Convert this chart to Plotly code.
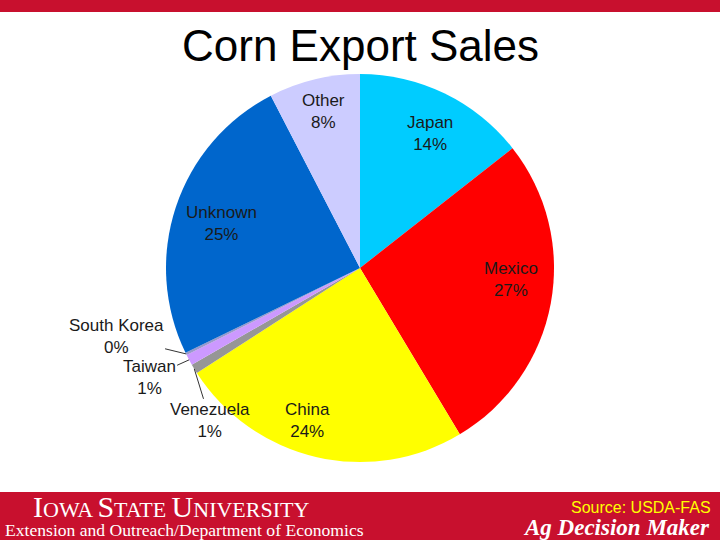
import math
import plotly.graph_objects as go

# ---- data ----
countries = ["Japan", "Mexico", "China", "Venezuela", "Taiwan", "South Korea", "Unknown", "Other"]
shares = [14.4, 27.0, 24.5, 0.8, 0.9, 0.2, 24.6, 7.6]
pct_labels = ["14%", "27%", "24%", "1%", "1%", "0%", "25%", "8%"]
colors = ["#00CCFF", "#FF0000", "#FFFF00", "#969696", "#CC99FF", "#9999CC", "#0066CC", "#CCCCFF"]

title_text = "Corn Export Sales"
source_text = "Source: USDA-FAS"

# ---- layout geometry (pixels) ----
W, H = 720, 540
CX, CY, R = 360, 268, 194
RED = "#C8102E"

def px(x):
    return x / W

def py(y):
    return 1 - y / H

fig = go.Figure()
fig.add_trace(go.Pie(
    labels=countries,
    values=shares,
    sort=False,
    direction="clockwise",
    rotation=0,
    marker=dict(colors=colors, line=dict(width=0)),
    textinfo="none",
    hoverinfo="label+percent",
    showlegend=False,
    domain=dict(x=[px(CX - R), px(CX + R)], y=[py(CY + R), py(CY - R)]),
))

# label placement styles: inside labels (radius fraction, angle nudge deg)
inside_style = {
    "Japan": (0.78, 1.5),
    "Mexico": (0.78, -6.0),
    "China": (0.83, 6.0),
    "Unknown": (0.75, -0.5),
    "Other": (0.83, 0.5),
}
# outside labels: pixel offsets of text from the slice edge point
outside_style = {
    "Venezuela": (16, 52),
    "Taiwan": (-40, 18),
    "South Korea": (-70, -17),
}

total = sum(shares)
cum = 0.0
annotations = []
label_font = dict(family="Liberation Sans, Arial", size=17, color="#1a1a1a")
for name, v, pl in zip(countries, shares, pct_labels):
    mid = (cum + v / 2) / total * 360.0
    cum += v
    txt = f"{name}<br>{pl}"
    if name in inside_style:
        rf, nudge = inside_style[name]
        a = math.radians(mid + nudge)
        x = CX + rf * R * math.sin(a)
        y = CY - rf * R * math.cos(a)
        annotations.append(dict(x=px(x), y=py(y), xref="paper", yref="paper",
                                text=txt, showarrow=False, font=label_font,
                                align="center", xanchor="center", yanchor="middle"))
    else:
        a = math.radians(mid)
        x = CX + R * math.sin(a)
        y = CY - R * math.cos(a)
        ax, ay = outside_style[name]
        annotations.append(dict(x=px(x), y=py(y), xref="paper", yref="paper",
                                text=txt, showarrow=True, arrowhead=0, arrowwidth=1,
                                arrowcolor="#333333", ax=ax, ay=ay, standoff=0,
                                font=label_font, align="center"))

# title
annotations.append(dict(x=0.5, y=py(46), xref="paper", yref="paper", text=title_text,
                        showarrow=False, xanchor="center", yanchor="middle",
                        font=dict(family="Liberation Sans, Arial", size=44, color="#000000")))

# footer texts
annotations.append(dict(x=px(31), y=py(506), xref="paper", yref="paper",
                        text=("<span style='font-size:30px'>I</span>OWA "
                              "<span style='font-size:30px'>S</span>TATE "
                              "<span style='font-size:30px'>U</span>NIVERSITY"),
                        showarrow=False, xanchor="left", yanchor="middle",
                        font=dict(family="Liberation Serif, Times New Roman", size=22, color="#FFFFFF")))
annotations.append(dict(x=px(3), y=py(530), xref="paper", yref="paper",
                        text="Extension and Outreach/Department of Economics",
                        showarrow=False, xanchor="left", yanchor="middle",
                        font=dict(family="Liberation Serif, Times New Roman", size=17.6, color="#FFFFFF")))
annotations.append(dict(x=px(713), y=py(507), xref="paper", yref="paper",
                        text=source_text, showarrow=False, xanchor="right", yanchor="middle",
                        font=dict(family="Liberation Sans, Arial", size=16, color="#FFFF00")))
annotations.append(dict(x=px(712), y=py(527), xref="paper", yref="paper",
                        text="<b><i>Ag Decision Maker</i></b>", showarrow=False,
                        xanchor="right", yanchor="middle",
                        font=dict(family="Liberation Serif, Times New Roman", size=23, color="#FFFFFF")))

shapes = [
    dict(type="rect", xref="paper", yref="paper", x0=0, x1=1, y0=py(12), y1=1,
         fillcolor=RED, line=dict(width=0), layer="below"),
    dict(type="rect", xref="paper", yref="paper", x0=0, x1=1, y0=0, y1=py(492),
         fillcolor=RED, line=dict(width=0), layer="below"),
]

fig.update_layout(
    width=W, height=H,
    margin=dict(l=0, r=0, t=0, b=0),
    paper_bgcolor="#FFFFFF",
    plot_bgcolor="#FFFFFF",
    annotations=annotations,
    shapes=shapes,
)

fig.write_html("out.html",
               config={"displayModeBar": False},
               post_script="document.body.style.margin='0';document.body.style.overflow='hidden';")
